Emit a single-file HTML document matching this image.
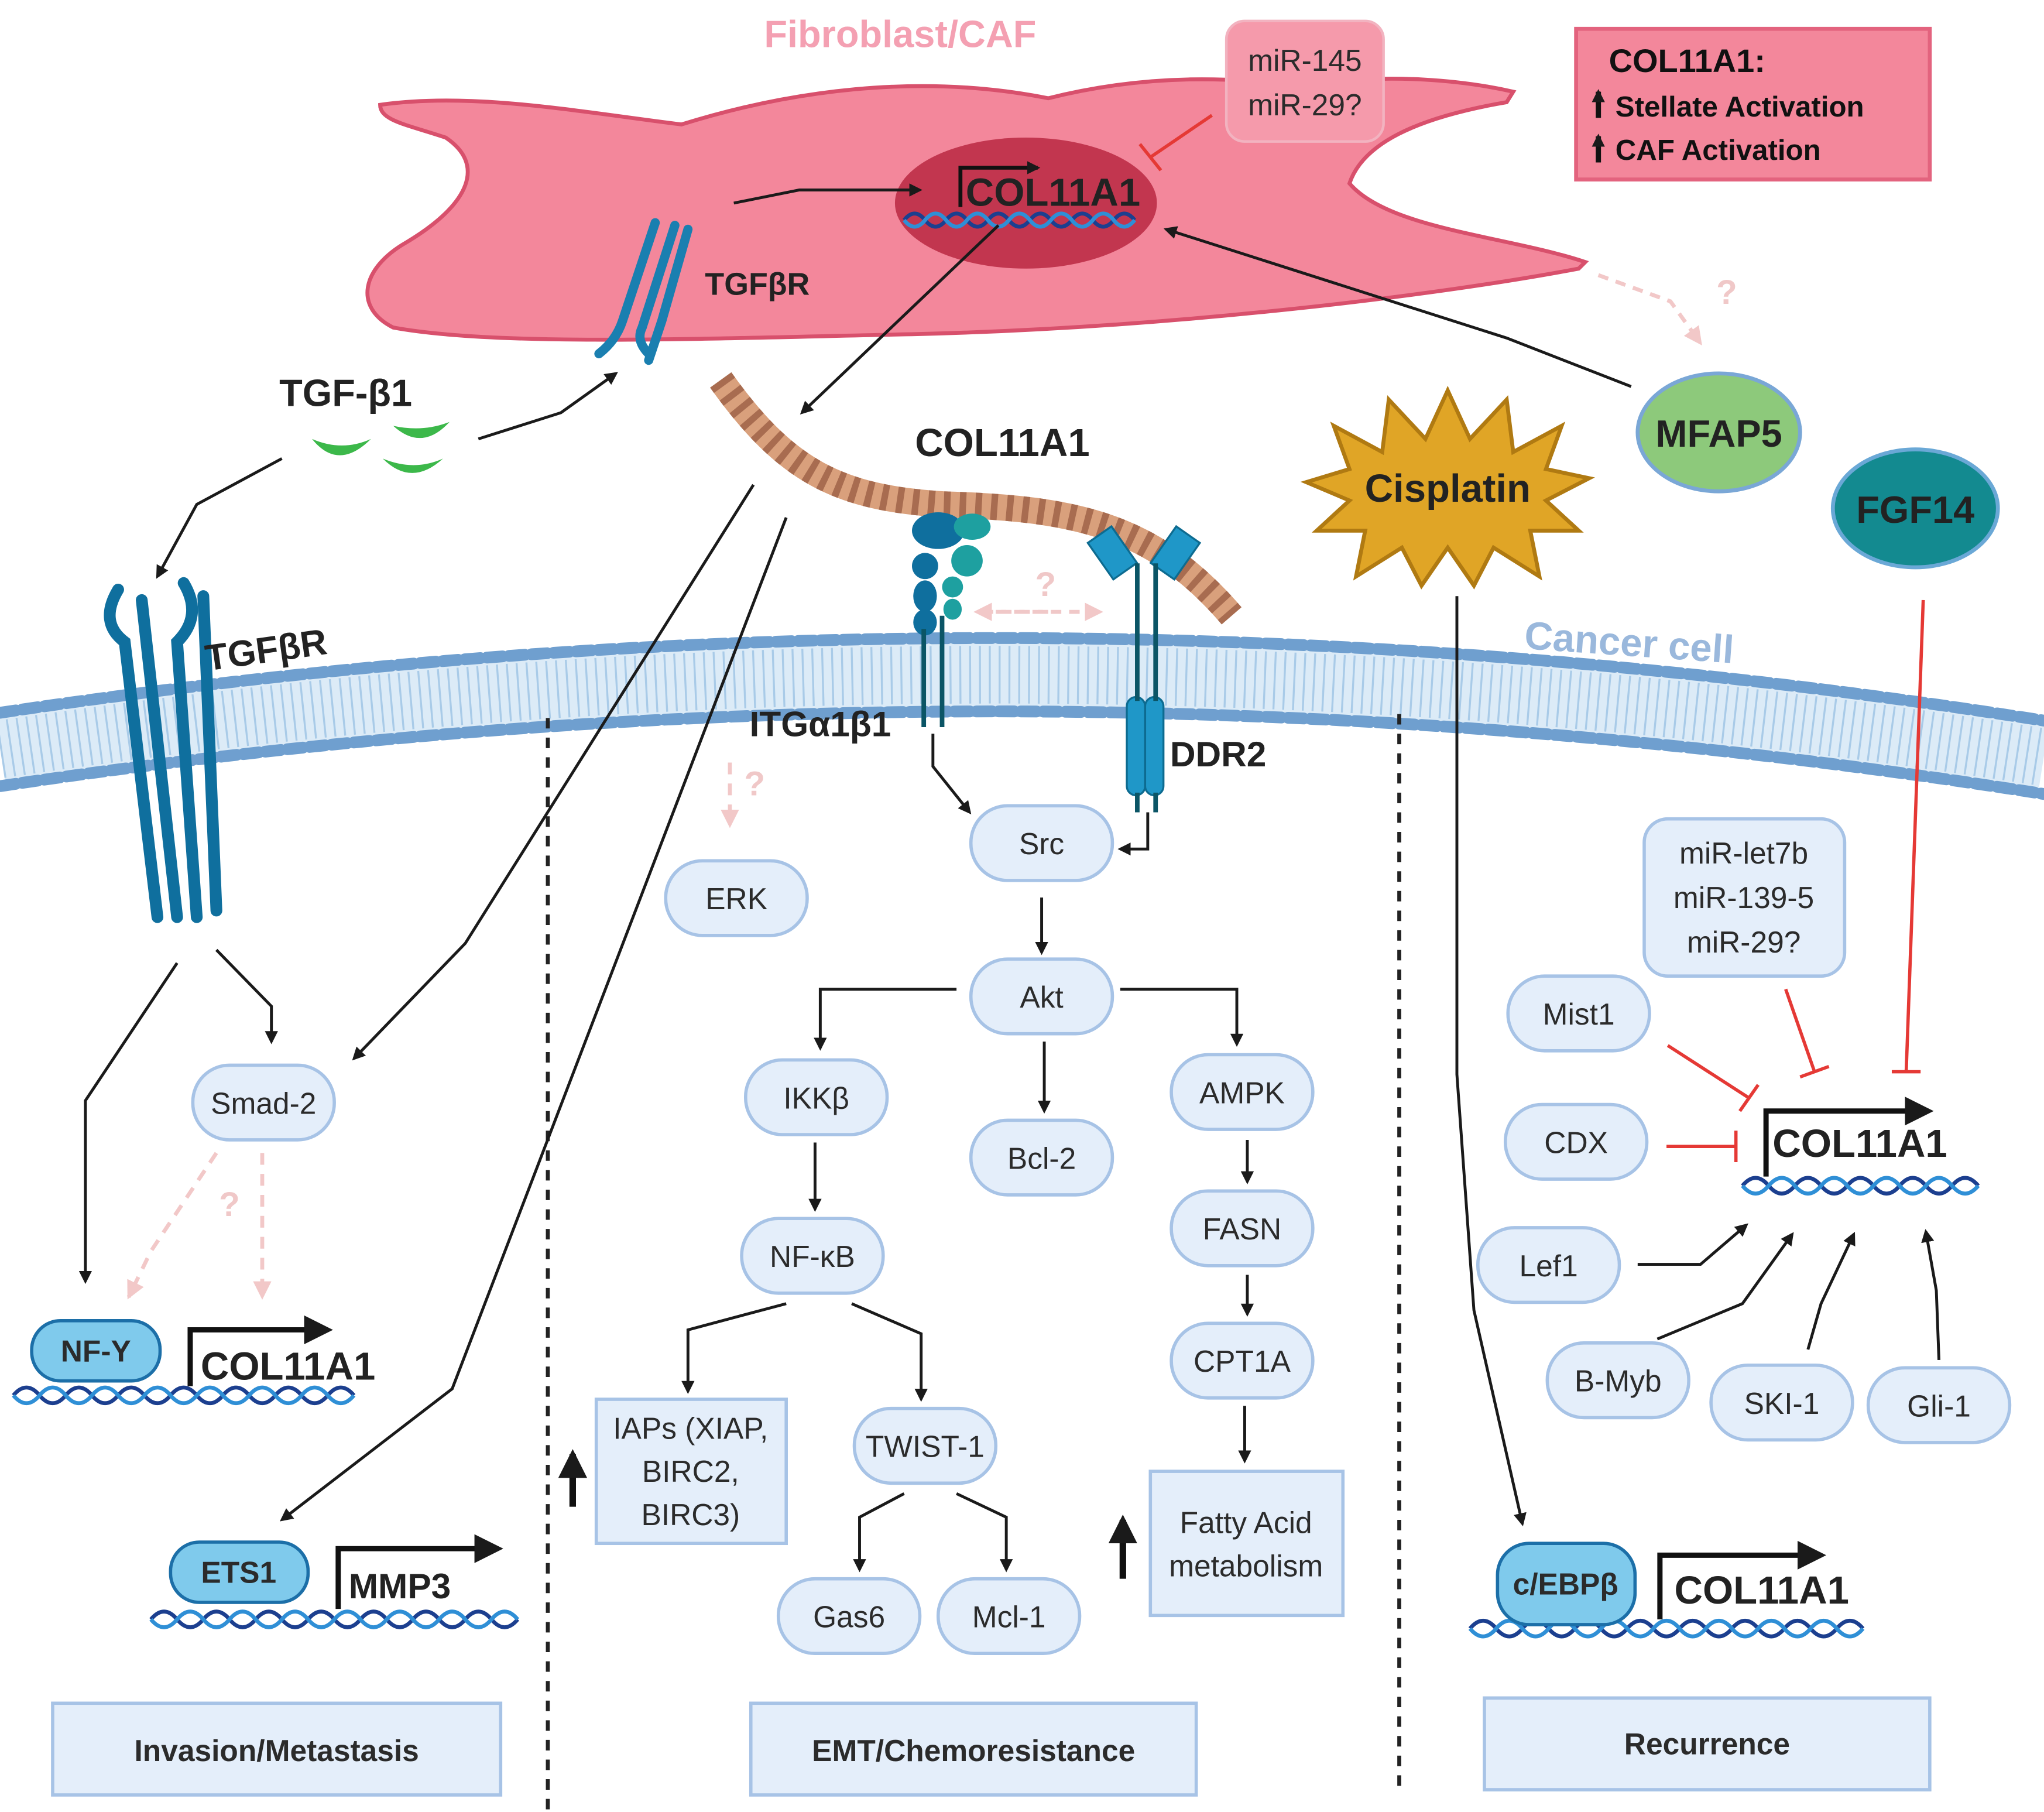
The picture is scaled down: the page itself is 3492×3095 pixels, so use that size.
<!DOCTYPE html>
<html><head><meta charset="utf-8"><style>
html,body{margin:0;padding:0;background:#fff}
svg{display:block}
text{font-family:"Liberation Sans",sans-serif}
.n{fill:#e4eefa;stroke:#a7c3e6;stroke-width:2.5}
.t{font-size:23px;fill:#2b2b2b;text-anchor:middle;dominant-baseline:central}
.b{font-weight:bold}
.a{stroke:#1a1a1a;stroke-width:2.2;fill:none;marker-end:url(#ah)}
.r{stroke:#e53935;stroke-width:2.5;fill:none}
.dna1{stroke:#1c3f8f;stroke-width:3;fill:none}
.dna2{stroke:#2f8fd6;stroke-width:3;fill:none}
</style></head><body>
<svg width="3492" height="3095" viewBox="0 0 1560 1383" xmlns="http://www.w3.org/2000/svg">
<defs>
<marker id="ah" markerWidth="10" markerHeight="10" refX="8" refY="5" orient="auto" markerUnits="userSpaceOnUse"><path d="M0,0 L10,5 L0,10 z" fill="#1a1a1a"/></marker>
<marker id="ahb" markerWidth="22" markerHeight="22" refX="18" refY="11" orient="auto" markerUnits="userSpaceOnUse"><path d="M0,0 L22,11 L0,22 z" fill="#1a1a1a"/></marker>
<marker id="ahp" markerWidth="14" markerHeight="14" refX="12" refY="7" orient="auto" markerUnits="userSpaceOnUse"><path d="M0,0 L14,7 L0,14 z" fill="#f2c8c8"/></marker>
</defs>

<!-- Fibroblast -->
<path d="M290,80 C360,70 440,85 520,95 C600,70 700,55 800,75 C880,55 940,60 1000,65 C1060,55 1120,62 1155,70 L1150,78 C1080,90 1040,110 1030,140 C1060,175 1150,180 1210,200 L1205,205 C1100,225 900,250 700,255 C550,258 380,265 300,250 C270,235 275,205 310,185 C360,155 370,125 340,105 C310,95 290,92 290,80 Z" fill="#f3879b" stroke="#d8506c" stroke-width="3"/>
<text x="687" y="36" class="b" font-size="29" fill="#f4a0b2" text-anchor="middle">Fibroblast/CAF</text>
<ellipse cx="783" cy="155" rx="100" ry="50" fill="#c2364f"/>
<path d="M690,168 q8,-10 16,0 t16,0 t16,0 t16,0 t16,0 t16,0 t16,0 t16,0 t16,0 t16,0 t16,0" class="dna1"/>
<path d="M690,168 q8,10 16,0 t16,0 t16,0 t16,0 t16,0 t16,0 t16,0 t16,0 t16,0 t16,0 t16,0" class="dna2"/>
<path d="M733,158 V128 H792" stroke="#111" stroke-width="3" fill="none" marker-end="url(#ah)"/>
<text x="737" y="157" class="b" font-size="30" fill="#222">COL11A1</text>
<rect x="936" y="16" width="120" height="92" rx="14" fill="#f59aab" stroke="#f2b3c0" stroke-width="2"/>
<text x="996" y="46" class="t">miR-145</text><text x="996" y="80" class="t">miR-29?</text>
<path d="M925,88 L878,120" class="r"/><path d="M870,110 L886,130" class="r"/>
<rect x="1203" y="22" width="270" height="115" fill="#f3879b" stroke="#e3637e" stroke-width="3"/>
<text x="1228" y="55" class="b" font-size="25" fill="#111">COL11A1:</text>
<text x="1233" y="89" class="b" font-size="22" fill="#111">Stellate Activation</text>
<text x="1233" y="122" class="b" font-size="22" fill="#111">CAF Activation</text>
<path d="M1220,90 V70" stroke="#111" stroke-width="4" marker-end="url(#ah)"/>
<path d="M1220,124 V104" stroke="#111" stroke-width="4" marker-end="url(#ah)"/>

<!-- top TGFbR -->
<g stroke="#1a7fb0" stroke-width="7" fill="none" stroke-linecap="round">
<path d="M500,170 L475,245 q-5,15 -18,25"/><path d="M515,172 L490,250 q-5,10 5,20"/>
<path d="M525,175 L505,245 q-4,12 -10,30"/></g>
<text x="538" y="225" class="b" font-size="24" fill="#222">TGFβR</text>
<path d="M560,155 L610,145 H702" class="a"/>

<!-- Membrane -->
<path d="M0,572 Q780,455 1560,578" stroke="#dcebf7" stroke-width="62" fill="none"/>
<path d="M0,572 Q780,455 1560,578" stroke="#a9cbe8" stroke-width="44" stroke-dasharray="1.5 6" fill="none"/>
<path d="M0,544 Q780,427 1560,550" stroke="#6f9fcf" stroke-width="9" stroke-dasharray="12 5" stroke-linecap="round" fill="none"/>
<path d="M0,600 Q780,483 1560,606" stroke="#6f9fcf" stroke-width="9" stroke-dasharray="12 5" stroke-linecap="round" fill="none"/>
<text x="1163" y="495" class="b" font-size="30" fill="#9ab8dc" transform="rotate(4 1163 495)">Cancer cell</text>

<!-- collagen -->
<path d="M550,290 C600,360 640,380 720,385 C820,388 880,400 940,470" stroke="#d9a07c" stroke-width="20" fill="none"/>
<path d="M550,290 C600,360 640,380 720,385 C820,388 880,400 940,470" stroke="#a86c50" stroke-width="20" stroke-dasharray="5 7" fill="none"/>
<text x="765" y="348" class="b" font-size="30" fill="#222" text-anchor="middle">COL11A1</text>
<path d="M762,172 L612,315" class="a" stroke-width="2.5" marker-end="url(#ahb)"/>

<!-- integrin -->
<g fill="#0f6f9e"><ellipse cx="716" cy="405" rx="20" ry="14"/><ellipse cx="706" cy="432" rx="10" ry="10"/><ellipse cx="706" cy="455" rx="9" ry="12"/><ellipse cx="706" cy="475" rx="9" ry="10"/></g>
<g fill="#1ea0a0"><ellipse cx="742" cy="402" rx="14" ry="10"/><ellipse cx="738" cy="428" rx="12" ry="12"/><ellipse cx="727" cy="448" rx="8" ry="8"/><ellipse cx="727" cy="465" rx="7" ry="8"/></g>
<path d="M705,480 V555 M719,470 V555" stroke="#0b5566" stroke-width="3.5"/>
<text x="572" y="562" class="b" font-size="27" fill="#222">ITGα1β1</text>
<!-- DDR2 -->
<g fill="#1f97c8" stroke="#0d6b90" stroke-width="1.5">
<rect x="838" y="405" width="22" height="34" transform="rotate(-35 849 422)"/><rect x="886" y="405" width="22" height="34" transform="rotate(35 897 422)"/>
<rect x="860" y="532" width="14" height="75" rx="7"/><rect x="874" y="532" width="14" height="75" rx="7"/></g>
<path d="M868,430 V535 M882,430 V535 M868,605 V620 M882,605 V620" stroke="#0b5566" stroke-width="3.5"/>
<text x="893" y="585" class="b" font-size="27" fill="#222">DDR2</text>
<path d="M760,467 H840" stroke="#f0c8c8" stroke-width="3" stroke-dasharray="8 6" marker-end="url(#ahp)"/>
<path d="M800,467 H745" stroke="#f0c8c8" stroke-width="3" stroke-dasharray="8 6" marker-end="url(#ahp)"/>
<text x="798" y="455" font-size="26" fill="#f0c8c8" text-anchor="middle" class="b">?</text>

<!-- left TGFbR -->
<g stroke="#0f6f9e" stroke-width="9" fill="none" stroke-linecap="round">
<path d="M90,450 q-15,25 5,40 L120,700"/><path d="M108,458 L135,700"/><path d="M140,445 q15,25 -5,45 L150,700"/><path d="M155,455 L165,695"/></g>
<text x="158" y="512" class="b" font-size="28" fill="#222" transform="rotate(-8 158 512)">TGFβR</text>

<!-- TGF-b1 -->
<text x="213" y="310" class="b" font-size="29" fill="#222">TGF-β1</text>
<g fill="#3cb84a"><path d="M238,335 q20,25 45,0 q-22,10 -45,0z"/><path d="M300,325 q22,20 43,-3 q-20,8 -43,3z"/><path d="M292,350 q22,22 46,0 q-22,10 -46,0z"/></g>
<path d="M365,335 L428,315 L470,285" class="a" stroke-width="3.5" marker-end="url(#ahb)"/>
<path d="M215,350 L150,385 L120,440" class="a" stroke-width="3.5" marker-end="url(#ahb)"/>

<!-- Cisplatin star -->
<polygon points="1105,298 1122,335 1150,305 1155,345 1192,325 1180,358 1213,365 1180,382 1205,405 1168,405 1175,440 1140,418 1125,447 1105,418 1085,447 1070,418 1035,440 1042,405 1005,405 1030,382 997,368 1030,358 1018,325 1055,345 1060,305 1088,335" fill="#e0a526" stroke="#b07a12" stroke-width="3"/>
<text x="1105" y="383" class="b" font-size="30" fill="#222" text-anchor="middle">Cisplatin</text>
<ellipse cx="1312" cy="330" rx="62" ry="45" fill="#8dc97b" stroke="#7aa7d6" stroke-width="3"/>
<text x="1312" y="341" class="b" font-size="29" fill="#222" text-anchor="middle">MFAP5</text>
<ellipse cx="1462" cy="388" rx="63" ry="45" fill="#138a90" stroke="#6aa8d6" stroke-width="3"/>
<text x="1462" y="399" class="b" font-size="29" fill="#222" text-anchor="middle">FGF14</text>
<path d="M1245,295 L1150,258 L890,175" class="a" stroke-width="2.5" marker-end="url(#ahb)"/>
<path d="M1220,210 L1275,230 L1298,262" stroke="#f2c8c8" stroke-width="3" stroke-dasharray="8 6" fill="none" marker-end="url(#ahp)"/>
<text x="1310" y="232" font-size="26" fill="#f0c8c8" class="b">?</text>
<path d="M1112,455 L1112,820 L1125,1000 L1162,1163" class="a" stroke-width="2.2"/>
<path d="M1468,458 L1455,818" class="r"/><path d="M1444,818 H1466" class="r"/>

<!-- dashed separators -->
<path d="M418,548 V1383 M1068,545 V1370" stroke="#222" stroke-width="3" stroke-dasharray="8 7"/>

<!-- left column arrows -->
<path d="M575,370 L355,720 L270,808" class="a" stroke-width="2.2"/>
<path d="M600,395 L345,1060 L215,1160" class="a" stroke-width="2.2"/>
<path d="M165,725 L207,768 V795" class="a"/>
<path d="M135,735 L65,840 V978" class="a"/>
<path d="M165,880 L115,955 L98,990" stroke="#f2c8c8" stroke-width="3" stroke-dasharray="9 7" fill="none" marker-end="url(#ahp)"/>
<path d="M200,880 V990" stroke="#f2c8c8" stroke-width="3" stroke-dasharray="9 7" fill="none" marker-end="url(#ahp)"/>
<text x="167" y="928" font-size="26" fill="#f0c8c8" class="b">?</text>
<path d="M557,582 V630" stroke="#f2c8c8" stroke-width="3" stroke-dasharray="9 7" fill="none" marker-end="url(#ahp)"/>
<text x="568" y="607" font-size="26" fill="#f0c8c8" class="b">?</text>

<!-- nodes -->
<g>
<rect class="n" x="147" y="813" width="108" height="57" rx="28"/><text class="t" x="201" y="842">Smad-2</text>
<rect class="n" x="508" y="657" width="108" height="57" rx="28"/><text class="t" x="562" y="686">ERK</text>
<rect class="n" x="741" y="615" width="108" height="57" rx="28"/><text class="t" x="795" y="644">Src</text>
<rect class="n" x="741" y="732" width="108" height="57" rx="28"/><text class="t" x="795" y="761">Akt</text>
<rect class="n" x="569" y="809" width="108" height="57" rx="28"/><text class="t" x="623" y="838">IKKβ</text>
<rect class="n" x="741" y="855" width="108" height="57" rx="28"/><text class="t" x="795" y="884">Bcl-2</text>
<rect class="n" x="894" y="805" width="108" height="57" rx="28"/><text class="t" x="948" y="834">AMPK</text>
<rect class="n" x="566" y="930" width="108" height="57" rx="28"/><text class="t" x="620" y="959">NF-κB</text>
<rect class="n" x="894" y="909" width="108" height="57" rx="28"/><text class="t" x="948" y="938">FASN</text>
<rect class="n" x="894" y="1010" width="108" height="57" rx="28"/><text class="t" x="948" y="1039">CPT1A</text>
<rect class="n" x="652" y="1075" width="108" height="57" rx="28"/><text class="t" x="706" y="1104">TWIST-1</text>
<rect class="n" x="594" y="1205" width="108" height="57" rx="28"/><text class="t" x="648" y="1234">Gas6</text>
<rect class="n" x="716" y="1205" width="108" height="57" rx="28"/><text class="t" x="770" y="1234">Mcl-1</text>
<rect class="n" x="1151" y="745" width="108" height="57" rx="28"/><text class="t" x="1205" y="774">Mist1</text>
<rect class="n" x="1149" y="843" width="108" height="57" rx="28"/><text class="t" x="1203" y="872">CDX</text>
<rect class="n" x="1128" y="937" width="108" height="57" rx="28"/><text class="t" x="1182" y="966">Lef1</text>
<rect class="n" x="1181" y="1025" width="108" height="57" rx="28"/><text class="t" x="1235" y="1054">B-Myb</text>
<rect class="n" x="1306" y="1042" width="108" height="57" rx="28"/><text class="t" x="1360" y="1071">SKI-1</text>
<rect class="n" x="1426" y="1044" width="108" height="57" rx="28"/><text class="t" x="1480" y="1073">Gli-1</text>
<rect class="n" x="1255" y="625" width="153" height="120" rx="18"/><text class="t" x="1331" y="651">miR-let7b</text><text class="t" x="1331" y="685">miR-139-5</text><text class="t" x="1331" y="719">miR-29?</text>
<rect class="n" x="455" y="1068" width="145" height="110"/><text class="t" x="527" y="1090">IAPs (XIAP,</text><text class="t" x="527" y="1123">BIRC2,</text><text class="t" x="527" y="1156">BIRC3)</text>
<rect class="n" x="878" y="1123" width="147" height="110"/><text class="t" x="951" y="1162">Fatty Acid</text><text class="t" x="951" y="1195">metabolism</text>
<rect class="n" x="40" y="1300" width="342" height="70"/><text class="t b" x="211" y="1336">Invasion/Metastasis</text>
<rect class="n" x="573" y="1300" width="340" height="70"/><text class="t b" x="743" y="1336">EMT/Chemoresistance</text>
<rect class="n" x="1133" y="1296" width="340" height="70"/><text class="t b" x="1303" y="1331">Recurrence</text>
</g>

<!-- middle arrows -->
<path d="M712,560 V585 L740,620" class="a"/>
<path d="M876,620 V648 H855" class="a"/>
<path d="M795,685 V727" class="a"/>
<path d="M730,755 H626 V800" class="a"/>
<path d="M855,755 H944 V797" class="a"/>
<path d="M797,795 V848" class="a"/>
<path d="M622,872 V923" class="a"/>
<path d="M952,870 V902" class="a"/>
<path d="M952,973 V1003" class="a"/>
<path d="M950,1073 V1115" class="a"/>
<path d="M600,995 L525,1015 V1062" class="a"/>
<path d="M650,995 L703,1018 V1068" class="a"/>
<path d="M690,1140 L656,1158 V1198" class="a"/>
<path d="M730,1140 L768,1158 V1198" class="a"/>
<path d="M437,1150 V1110" stroke="#111" stroke-width="5" marker-end="url(#ahb)"/>
<path d="M857,1205 V1160" stroke="#111" stroke-width="5" marker-end="url(#ahb)"/>

<!-- right arrows -->
<path d="M1273,798 L1335,838" class="r"/><path d="M1328,848 L1342,828" class="r"/>
<path d="M1272,875 H1325" class="r"/><path d="M1325,863 V887" class="r"/>
<path d="M1363,755 L1385,818" class="r"/><path d="M1374,822 L1396,814" class="r"/>
<path d="M1250,965 H1298 L1333,935" class="a"/>
<path d="M1265,1022 L1330,995 L1368,942" class="a"/>
<path d="M1380,1030 L1390,995 L1415,942" class="a"/>
<path d="M1480,1038 L1478,985 L1470,940" class="a"/>

<!-- gene groups -->
<g>
<path d="M10,1065 q10,-12 20,0 t20,0 t20,0 t20,0 t20,0 t20,0 t20,0 t20,0 t20,0 t20,0 t20,0 t20,0 t20,0" class="dna1"/>
<path d="M10,1065 q10,12 20,0 t20,0 t20,0 t20,0 t20,0 t20,0 t20,0 t20,0 t20,0 t20,0 t20,0 t20,0 t20,0" class="dna2"/>
<path d="M145,1058 V1015 H250" stroke="#111" stroke-width="4" fill="none" marker-end="url(#ahb)"/>
<rect x="24" y="1008" width="98" height="46" rx="22" fill="#7fcaec" stroke="#1c6fa8" stroke-width="2.5"/>
<text x="73" y="1031" class="t b" font-size="22">NF-Y</text>
<text x="153" y="1053" class="b" font-size="30" fill="#222">COL11A1</text>

<path d="M115,1236 q10,-12 20,0 t20,0 t20,0 t20,0 t20,0 t20,0 t20,0 t20,0 t20,0 t20,0 t20,0 t20,0 t20,0 t20,0" class="dna1"/>
<path d="M115,1236 q10,12 20,0 t20,0 t20,0 t20,0 t20,0 t20,0 t20,0 t20,0 t20,0 t20,0 t20,0 t20,0 t20,0 t20,0" class="dna2"/>
<path d="M258,1228 V1182 H380" stroke="#111" stroke-width="4" fill="none" marker-end="url(#ahb)"/>
<rect x="130" y="1177" width="105" height="46" rx="22" fill="#7fcaec" stroke="#1c6fa8" stroke-width="2.5"/>
<text x="182" y="1200" class="t b" font-size="22">ETS1</text>
<text x="266" y="1220" class="b" font-size="27" fill="#222">MMP3</text>

<path d="M1122,1243 q10,-12 20,0 t20,0 t20,0 t20,0 t20,0 t20,0 t20,0 t20,0 t20,0 t20,0 t20,0 t20,0 t20,0 t20,0 t20,0" class="dna1"/>
<path d="M1122,1243 q10,12 20,0 t20,0 t20,0 t20,0 t20,0 t20,0 t20,0 t20,0 t20,0 t20,0 t20,0 t20,0 t20,0 t20,0 t20,0" class="dna2"/>
<path d="M1267,1236 V1187 H1390" stroke="#111" stroke-width="4" fill="none" marker-end="url(#ahb)"/>
<rect x="1143" y="1178" width="105" height="62" rx="24" fill="#7fcaec" stroke="#1c6fa8" stroke-width="2.5"/>
<text x="1195" y="1209" class="t b" font-size="24">c/EBPβ</text>
<text x="1278" y="1224" class="b" font-size="30" fill="#222">COL11A1</text>

<path d="M1330,905 q10,-12 20,0 t20,0 t20,0 t20,0 t20,0 t20,0 t20,0 t20,0 t20,0" class="dna1"/>
<path d="M1330,905 q10,12 20,0 t20,0 t20,0 t20,0 t20,0 t20,0 t20,0 t20,0 t20,0" class="dna2"/>
<path d="M1348,898 V848 H1472" stroke="#111" stroke-width="4" fill="none" marker-end="url(#ahb)"/>
<text x="1353" y="883" class="b" font-size="30" fill="#222">COL11A1</text>
</g>
</svg>
</body></html>
